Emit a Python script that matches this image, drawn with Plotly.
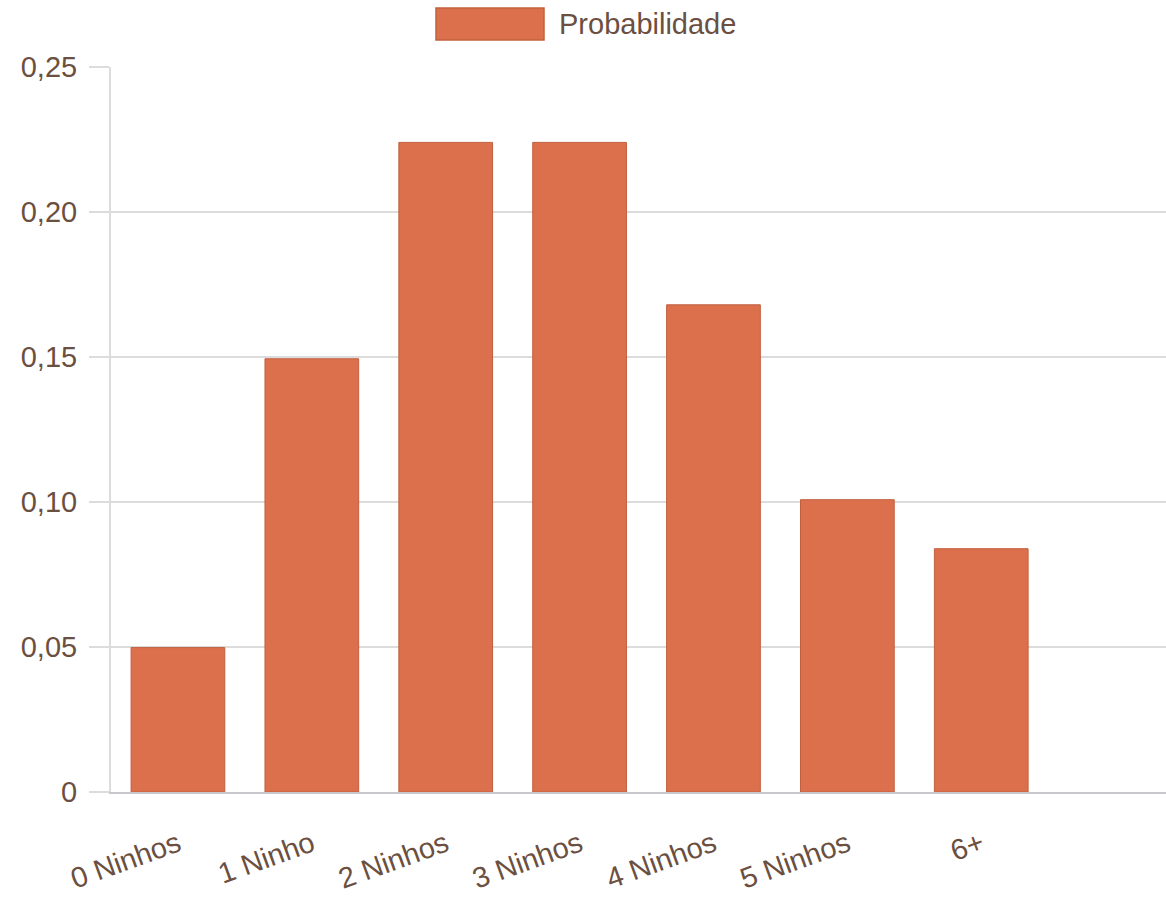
import plotly.graph_objects as go

# Distribuição de probabilidade do número de ninhos
categorias = ["0 Ninhos", "1 Ninho", "2 Ninhos", "3 Ninhos", "4 Ninhos", "5 Ninhos", "6+"]
probabilidade = [0.0498, 0.1494, 0.2240, 0.2240, 0.1680, 0.1008, 0.0839]
y_ticks = [0, 0.05, 0.10, 0.15, 0.20, 0.25]
y_tick_labels = ["0", "0,05", "0,10", "0,15", "0,20", "0,25"]

TEXT = "#6b4f40"
FILL = "#dc704c"
EDGE = "#c0603f"
GRID = "#dcdcdc"
FONT = "Liberation Sans, Arial, sans-serif"
FSIZE = 29

x_pos = list(range(len(categorias)))

fig = go.Figure()
fig.add_trace(go.Bar(
    x=x_pos,
    y=probabilidade,
    name="Probabilidade",
    width=0.70,
    marker=dict(color=FILL, line=dict(color=EDGE, width=1)),
    showlegend=False,
))

# Legenda desenhada à mão: retângulo + texto centrados no topo
fig.add_shape(type="rect", xref="paper", yref="paper",
              x0=(436 - 111) / 1055, x1=(544 - 111) / 1055,
              y0=1 + (67 - 40) / 725, y1=1 + (67 - 8) / 725,
              fillcolor=FILL, line=dict(color=EDGE, width=1.5))
fig.add_annotation(text="Probabilidade", xref="paper", yref="paper",
                   x=(557 - 111) / 1055, y=1 + (67 - 24) / 725,
                   xanchor="left", yanchor="middle", showarrow=False,
                   font=dict(family=FONT, size=FSIZE, color=TEXT))

fig.update_layout(
    width=1166, height=903,
    margin=dict(l=111, r=0, t=67, b=111),
    paper_bgcolor="white", plot_bgcolor="white",
    font=dict(family=FONT, size=FSIZE, color=TEXT),
    separators=",.",
    bargap=0.3,
)
fig.update_xaxes(
    range=[-0.5, 7.38],
    tickmode="array", tickvals=x_pos, ticktext=categorias,
    tickangle=-20, ticks="", showgrid=False,
    ticklabelstandoff=22,
    showline=True, linecolor="#c8c8cc", linewidth=2,
    zeroline=False,
    tickfont=dict(family=FONT, size=FSIZE, color=TEXT),
)
fig.update_yaxes(
    range=[0, 0.25],
    tickmode="array", tickvals=y_ticks, ticktext=y_tick_labels,
    ticks="outside", ticklen=20, tickcolor=GRID, tickwidth=2,
    ticklabelstandoff=6,
    showgrid=True, gridcolor=GRID, gridwidth=2,
    showline=True, linecolor=GRID, linewidth=2,
    zeroline=False,
    tickfont=dict(family=FONT, size=FSIZE, color=TEXT),
)

fig.write_html("out.html")
